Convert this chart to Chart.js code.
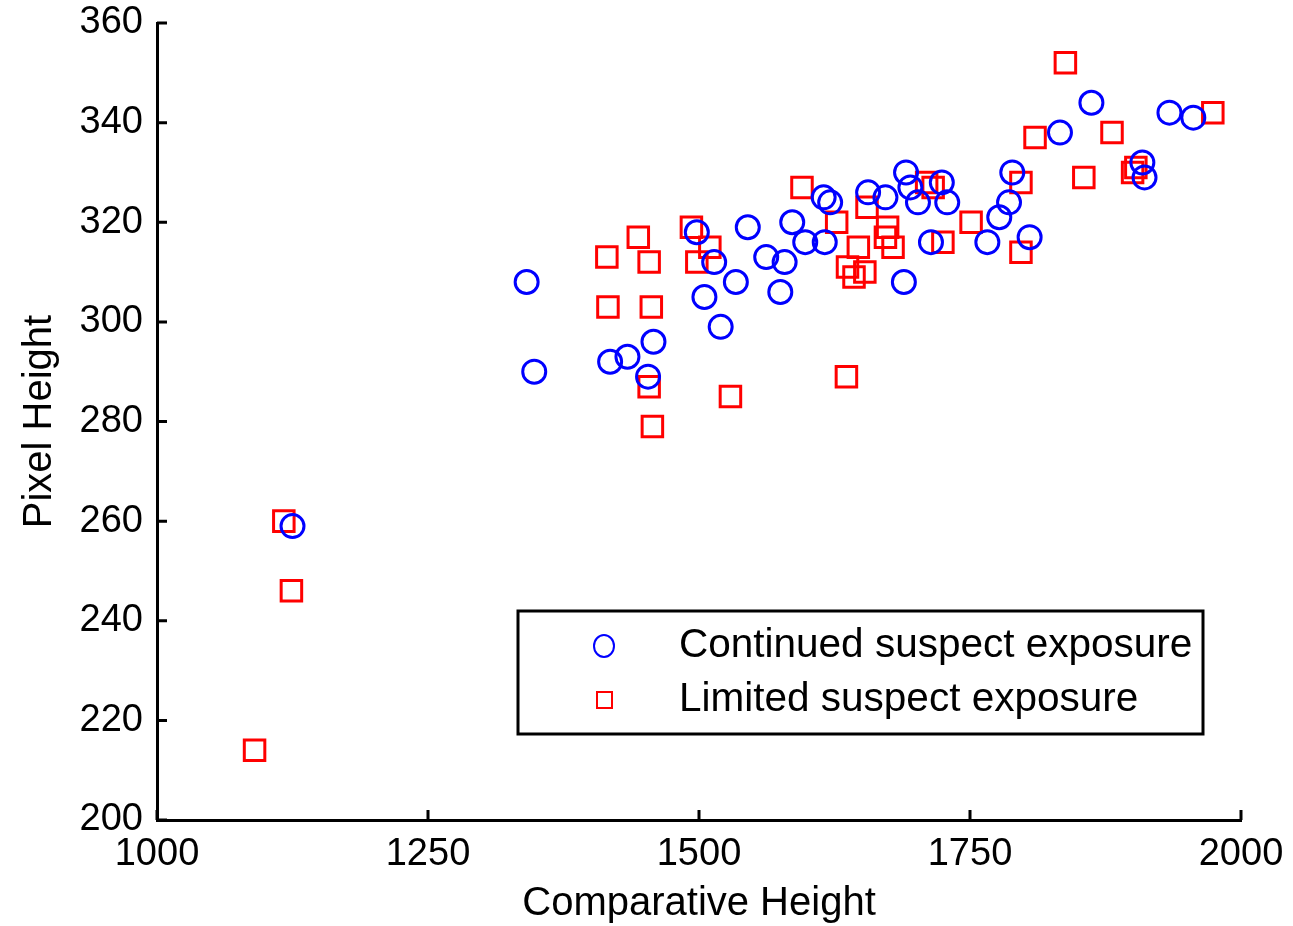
<!DOCTYPE html>
<html>
<head>
<meta charset="utf-8">
<title>Pixel Height vs Comparative Height</title>
<script src="https://cdn.jsdelivr.net/npm/chart.js@4/dist/chart.umd.min.js"></script>
<style>
    html, body { margin: 0; padding: 0; background: #ffffff; }
    canvas { display: block; }
</style>
</head>
<body>
<canvas id="scatterChart" width="1293" height="926"></canvas>
<script>
// Continued suspect exposure (blue circles)
const continuedX = [1341, 1348, 1418, 1434, 1453, 1458, 1498, 1505, 1514, 1520, 1534, 1545, 1562, 1575,
    1579, 1586, 1598, 1615, 1621, 1616, 1656, 1672, 1689, 1691, 1695, 1702, 1714, 1724, 1729, 1766,
    1777, 1786, 1789, 1805, 1833, 1862, 1909, 1911, 1934, 1956, 1125];
const continuedY = [308, 290, 292, 293, 289, 296, 318, 305, 312, 299, 308, 319, 313, 306,
    312, 320, 316, 325, 324, 316, 326, 325, 308, 330, 327, 324, 316, 328, 324, 316,
    321, 324, 330, 317, 338, 344, 332, 329, 342, 341, 259];

// Limited suspect exposure (red squares)
const limitedX = [1595, 1627, 1655, 1674, 1672, 1679, 1647, 1637, 1643, 1653, 1710, 1716, 1725, 1751,
    1797, 1797, 1415, 1444, 1454, 1416, 1456, 1493, 1510, 1498, 1454, 1457, 1529, 1636,
    1838, 1810, 1881, 1974, 1855, 1900, 1903, 1117, 1124, 1090];
const limitedY = [327, 320, 323, 319, 317, 315, 315, 311, 309, 310, 328, 327, 316, 320,
    328, 314, 313, 317, 312, 303, 303, 319, 315, 312, 287, 279, 285, 289,
    352, 337, 338, 342, 329, 330, 331, 260, 246, 214];

const seriesLabels = ['Continued suspect exposure', 'Limited suspect exposure'];
const xTicks = [1000, 1250, 1500, 1750, 2000];
const yTicks = [200, 220, 240, 260, 280, 300, 320, 340, 360];

const FONT = 'Liberation Sans, Arial, Helvetica, sans-serif';

// Build {x, y} points
function toPoints(xs, ys) {
    return xs.map((x, i) => ({ x: x, y: ys[i] }));
}

// Inward tick marks on the left and bottom axes
const inwardTicks = {
    id: 'inwardTicks',
    afterDatasetsDraw(chart) {
        const ctx = chart.ctx;
        const area = chart.chartArea;
        const xs = chart.scales.x;
        const ys = chart.scales.y;
        ctx.save();
        ctx.strokeStyle = '#000000';
        ctx.lineWidth = 3;
        ctx.beginPath();
        xTicks.forEach(v => {
            const px = xs.getPixelForValue(v);
            ctx.moveTo(px, area.bottom);
            ctx.lineTo(px, area.bottom - 10);
        });
        yTicks.forEach(v => {
            const py = ys.getPixelForValue(v);
            ctx.moveTo(area.left, py);
            ctx.lineTo(area.left + 10, py);
        });
        ctx.stroke();
        ctx.restore();
    }
};

// Boxed legend drawn inside the plot area
const boxLegend = {
    id: 'boxLegend',
    afterDraw(chart) {
        const ctx = chart.ctx;
        const area = chart.chartArea;
        const right = area.right - 38;
        const bottom = area.bottom - 86;
        const left = right - 685;
        const top = bottom - 123;
        ctx.save();
        ctx.fillStyle = '#ffffff';
        ctx.fillRect(left, top, right - left, bottom - top);
        ctx.strokeStyle = '#000000';
        ctx.lineWidth = 3;
        ctx.strokeRect(left, top, right - left, bottom - top);

        ctx.font = '40.5px ' + FONT;
        ctx.fillStyle = '#000000';
        ctx.textBaseline = 'middle';
        ctx.textAlign = 'left';

        const rowY = [top + 35, top + 89];
        // circle entry
        ctx.strokeStyle = '#0000ff';
        ctx.lineWidth = 2;
        ctx.beginPath();
        ctx.ellipse(left + 86, rowY[0], 10, 11, 0, 0, Math.PI * 2);
        ctx.stroke();
        // square entry
        ctx.strokeStyle = '#ff0000';
        ctx.strokeRect(left + 79, rowY[1] - 8, 15, 16);

        ctx.fillText(chart.data.datasets[0].label, left + 161, rowY[0]);
        ctx.fillText(chart.data.datasets[1].label, left + 161, rowY[1]);
        ctx.restore();
    }
};

document.addEventListener('DOMContentLoaded', () => {
    const ctx = document.getElementById('scatterChart').getContext('2d');

    new Chart(ctx, {
        type: 'scatter',
        data: {
            datasets: [{
                label: seriesLabels[0],
                data: toPoints(continuedX, continuedY),
                pointStyle: 'circle',
                pointRadius: 11.5,
                pointBorderWidth: 3,
                borderColor: '#0000ff',
                backgroundColor: 'rgba(0,0,0,0)',
                pointHoverRadius: 11.5
            }, {
                label: seriesLabels[1],
                data: toPoints(limitedX, limitedY),
                pointStyle: 'rect',
                pointRadius: 14.5,
                pointBorderWidth: 3,
                borderColor: '#ff0000',
                backgroundColor: 'rgba(0,0,0,0)',
                pointHoverRadius: 14.5
            }]
        },
        options: {
            responsive: false,
            animation: false,
            layout: {
                padding: { left: 0, top: 23, right: 52, bottom: 0 }
            },
            plugins: {
                legend: { display: false },
                tooltip: { enabled: false }
            },
            scales: {
                x: {
                    type: 'linear',
                    min: 1000,
                    max: 2000,
                    afterBuildTicks: scale => {
                        scale.ticks = xTicks.map(v => ({ value: v }));
                    },
                    afterFit: scale => {
                        scale.height = 106;
                        scale.paddingLeft = 0;
                        scale.paddingRight = 0;
                    },
                    grid: { display: true, drawOnChartArea: false, drawTicks: false },
                    border: { display: true, color: '#000000', width: 3 },
                    ticks: {
                        color: '#000000',
                        padding: 12,
                        maxRotation: 0,
                        font: { family: FONT, size: 38 },
                        callback: v => String(v)
                    },
                    title: {
                        display: true,
                        text: 'Comparative Height',
                        color: '#000000',
                        font: { family: FONT, size: 40 },
                        padding: { top: 0, bottom: -2 }
                    }
                },
                y: {
                    type: 'linear',
                    min: 200,
                    max: 360,
                    afterBuildTicks: scale => {
                        scale.ticks = yTicks.map(v => ({ value: v }));
                    },
                    afterFit: scale => {
                        scale.width = 157;
                        scale.paddingTop = 0;
                        scale.paddingBottom = 0;
                    },
                    grid: { display: true, drawOnChartArea: false, drawTicks: false },
                    border: { display: true, color: '#000000', width: 3 },
                    ticks: {
                        color: '#000000',
                        padding: 14,
                        font: { family: FONT, size: 38 },
                        callback: v => String(v)
                    },
                    title: {
                        display: true,
                        text: 'Pixel Height',
                        color: '#000000',
                        font: { family: FONT, size: 40 },
                        padding: { top: 16, bottom: 0 }
                    }
                }
            }
        },
        plugins: [inwardTicks, boxLegend]
    });
});
</script>
</body>
</html>
